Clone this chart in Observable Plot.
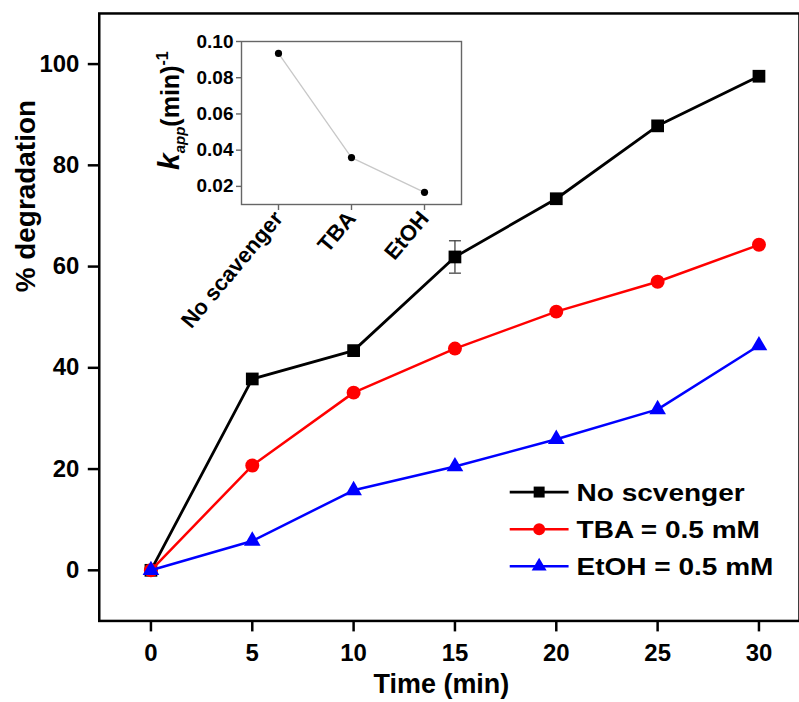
<!DOCTYPE html>
<html><head><meta charset="utf-8">
<script src="https://cdn.jsdelivr.net/npm/d3@7"></script>
<script src="https://cdn.jsdelivr.net/npm/@observablehq/plot@0.6"></script>
<style>
body{margin:0;background:#fff;}
#wrap{position:relative;width:799px;height:702px;overflow:hidden;background:#fff;}
#wrap svg{position:absolute;}
</style></head><body><div id="wrap"></div>
<script>
// ---- main chart data ----
const time = [0, 5, 10, 15, 20, 25, 30];
const noScavenger = [0, 37.8, 43.4, 61.9, 73.4, 87.8, 97.6];
const tba = [0, 20.7, 35.1, 43.8, 51.1, 57.0, 64.3];
const etoh = [0, 5.8, 15.8, 20.5, 25.9, 31.8, 44.4];
const errTime = [15];
const errValue = [61.9];
const errSize = [3.2];
const seriesNames = ["No scvenger", "TBA = 0.5 mM", "EtOH = 0.5 mM"];
const seriesColors = ["#000000", "#ff0000", "#0000ff"];
const seriesSymbols = ["square", "circle", "triangle"];
const yTicks = [0, 20, 40, 60, 80, 100];
const xTicks = [0, 5, 10, 15, 20, 25, 30];
const xLabel = "Time (min)";
const yLabel = "% degradation";
// ---- inset data ----
const scavengers = ["No scavenger", "TBA", "EtOH"];
const kapp = [0.0934, 0.0359, 0.0167];
const kTicks = [0.02, 0.04, 0.06, 0.08, 0.10];

const font = "'Liberation Sans', Arial, Helvetica, sans-serif";
const seriesValues = [noScavenger, tba, etoh];
const rows = seriesNames.map((s, i) => time.map((t, j) => ({series: s, t, v: seriesValues[i][j]})));
const errRows = errTime.map((t, i) => ({t, v: errValue[i], e: errSize[i]}));
const capSymbol = {draw(ctx, size) { const w = Math.sqrt(size / Math.PI); ctx.moveTo(-w, 0); ctx.lineTo(w, 0); }};
const dotR = [7.2, 7, 6.2];
const lineW = [2.8, 2.5, 2.5];

const seriesMarks = [];
rows.forEach((r, i) => {
  seriesMarks.push(Plot.line(r, {x: "t", y: "v", stroke: seriesColors[i], strokeWidth: lineW[i]}));
  if (i === 0) {
    seriesMarks.push(Plot.ruleX(errRows, {x: "t", y1: d => d.v - d.e, y2: d => d.v + d.e, stroke: "#444", strokeWidth: 1.3}));
    seriesMarks.push(Plot.dot(errRows, {x: "t", y: d => d.v + d.e, symbol: capSymbol, r: 6, stroke: "#444", strokeWidth: 1.3, fill: "none"}));
    seriesMarks.push(Plot.dot(errRows, {x: "t", y: d => d.v - d.e, symbol: capSymbol, r: 6, stroke: "#444", strokeWidth: 1.3, fill: "none"}));
  }
  seriesMarks.push(Plot.dot(r, {x: "t", y: "v", symbol: seriesSymbols[i], r: dotR[i], fill: seriesColors[i], stroke: "none"}));
});

const main = Plot.plot({
  width: 801, height: 702,
  marginLeft: 99, marginRight: 0, marginTop: 13, marginBottom: 80,
  style: {fontFamily: font, fontWeight: "bold", fontSize: "24px", color: "#000", background: "transparent"},
  x: {domain: [-2.55, 32.0]},
  y: {domain: [-10, 110]},
  marks: [
    Plot.frame({stroke: "#000", strokeWidth: 2.5}),
    Plot.axisY(yTicks, {tickSize: 11, tickPadding: 9, strokeWidth: 2.5, fontSize: 24, fontWeight: "bold", label: null}),
    Plot.axisX(xTicks, {tickSize: 11, tickPadding: 12, strokeWidth: 2.5, fontSize: 24, fontWeight: "bold", label: null}),
    Plot.text([xLabel], {frameAnchor: "bottom", dx: -8, dy: 72, fontSize: 27, fontWeight: "bold"}),
    Plot.text([yLabel], {frameAnchor: "left", rotate: -90, dx: -73, dy: -25, fontSize: 28, fontWeight: "bold"}),
    ...seriesMarks
  ]
});
main.style.left = "0px"; main.style.top = "0px";

// legend
const lg = d3.select(main).append("g").attr("class", "legend").attr("text-anchor", "start");
const legY0 = 493.3, legStep = 37.2, legX1 = 511, legX2 = 570, legTx = 578;
const legSizes = [121, 113, 97];
seriesNames.forEach((name, i) => {
  const y = legY0 + i * legStep;
  lg.append("line").attr("x1", legX1).attr("x2", legX2).attr("y1", y).attr("y2", y)
    .attr("stroke", seriesColors[i]).attr("stroke-width", lineW[i]);
  const sym = [d3.symbolSquare, d3.symbolCircle, d3.symbolTriangle][i];
  lg.append("path").attr("d", d3.symbol(sym, legSizes[i])()).attr("transform", `translate(${(legX1 + legX2) / 2},${y})`)
    .attr("fill", seriesColors[i]);
  lg.append("text").attr("transform", `translate(${legTx},${y}) scale(1.17,1)`).attr("dy", "0.36em")
    .attr("text-anchor", "start")
    .attr("font-size", 24).attr("font-weight", "bold").attr("font-family", font).attr("fill", "#000").text(name);
});

// inset
const krows = scavengers.map((s, i) => ({s, k: kapp[i]}));
const inset = Plot.plot({
  width: 340, height: 330,
  marginLeft: 111, marginRight: 9, marginTop: 21, marginBottom: 146,
  style: {fontFamily: font, fontWeight: "bold", fontSize: "19px", color: "#000", background: "transparent"},
  x: {type: "point", domain: scavengers, padding: 0.5},
  y: {domain: [0.01, 0.10]},
  marks: [
    Plot.frame({stroke: "#666", strokeWidth: 1.4}),
    Plot.axisY(kTicks, {tickSize: 5, tickPadding: 3, tickFormat: d => d.toFixed(2), stroke: "#666", strokeWidth: 1.4, fontSize: 19, fontWeight: "bold", label: null}),
    Plot.axisX(scavengers, {tickSize: 6, tickPadding: 4, tickRotate: -50, stroke: "#666", strokeWidth: 1.4, fontSize: 22, fontWeight: "bold", label: null}),
    Plot.line(krows, {x: "s", y: "k", stroke: "#c8c8c8", strokeWidth: 1.3}),
    Plot.dot(krows, {x: "s", y: "k", r: 3.6, fill: "#000", stroke: "none"})
  ]
});
inset.style.left = "130px"; inset.style.top = "20px";
const yl = d3.select(inset).append("text")
  .attr("transform", "translate(49,150) rotate(-90)")
  .attr("text-anchor", "start")
  .attr("font-family", font).attr("font-weight", "bold").attr("fill", "#000");
yl.append("tspan").attr("font-size", 30).attr("font-style", "italic").text("k");
yl.append("tspan").attr("font-size", 15).attr("font-style", "italic").attr("dy", 6).text("app");
yl.append("tspan").attr("font-size", 25).attr("dy", -6).text("(min)");
yl.append("tspan").attr("font-size", 16).attr("dy", -11).text("-1");

const wrap = document.getElementById("wrap");
wrap.appendChild(main);
wrap.appendChild(inset);
</script></body></html>
